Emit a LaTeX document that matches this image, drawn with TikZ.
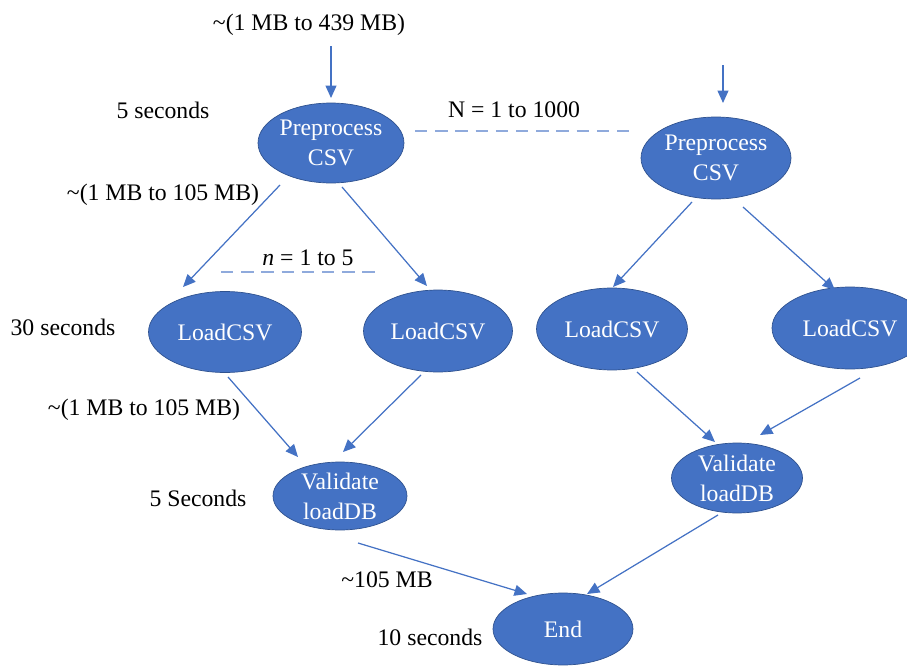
\documentclass[tikz,border=0pt]{standalone}
\usepackage{fontspec}
\setmainfont{Liberation Serif}
\usepackage{tikz}
\usetikzlibrary{arrows.meta, shapes.geometric}

\definecolor{officeblue}{HTML}{4472C4}
\definecolor{darkblue}{HTML}{2F528F}
\definecolor{lightblue}{HTML}{8FAADC}

\begin{document}
\begin{tikzpicture}[
  x=0.02cm, y=-0.02cm,
  font=\fontsize{13.5}{17}\selectfont,
  task/.style={draw=darkblue, ellipse, fill=officeblue, text=white, inner sep=0pt, align=center},
  arrow/.style={-{Triangle[length=0.25cm, width=0.22cm]}, officeblue, line width=0.7pt},
  batch/.style={dashed, lightblue, line width=1pt, dash pattern=on 7pt off 4.5pt},
  note/.style={text=black, inner sep=0pt}
]
\useasboundingbox (0,0) rectangle (907,666);
\clip (0,0) rectangle (907,666);

% left branch
\coordinate (in_a) at (331,46);
\node[task, minimum width=2.92cm, minimum height=1.6cm] (pre_a) at (331,143) {Preprocess\\CSV};
\draw[arrow] (in_a) -- ([shift={(0,-45)}]pre_a.center);

\node[task, minimum width=3.06cm, minimum height=1.62cm] (load_a) at (225,332) {LoadCSV};
\node[task, minimum width=2.98cm, minimum height=1.64cm] (load_b) at (438,331) {LoadCSV};
\draw[arrow] ([shift={(-51,42)}]pre_a.center) -- ([shift={(-42,-45)}]load_a.center);
\draw[arrow] ([shift={(11,44)}]pre_a.center) -- ([shift={(-11,-45)}]load_b.center);

\node[task, minimum width=2.68cm, minimum height=1.36cm] (val_a) at (340,496) {Validate\\loadDB};
\draw[arrow] ([shift={(3,45)}]load_a.center) -- ([shift={(-42,-39)}]val_a.center);
\draw[arrow] ([shift={(-17,44)}]load_b.center) -- ([shift={(3,-44)}]val_a.center);

% right branch
\coordinate (in_b) at (723,65);
\node[task, minimum width=3cm, minimum height=1.64cm] (pre_b) at (716,158) {Preprocess\\CSV};
\draw[arrow] (in_b) -- ([shift={(7,-55)}]pre_b.center);

\node[task, minimum width=3.02cm, minimum height=1.64cm] (load_c) at (612,329) {LoadCSV};
\node[task, minimum width=3.12cm, minimum height=1.64cm] (load_d) at (850,328) {LoadCSV};
\draw[arrow] ([shift={(-24,44)}]pre_b.center) -- ([shift={(1,-42)}]load_c.center);
\draw[arrow] ([shift={(27,49)}]pre_b.center) -- ([shift={(-15,-38)}]load_d.center);

\node[task, minimum width=2.62cm, minimum height=1.4cm] (val_b) at (737,478) {Validate\\loadDB};
\draw[arrow] ([shift={(25,43)}]load_c.center) -- ([shift={(-22,-36)}]val_b.center);
\draw[arrow] ([shift={(10,50)}]load_d.center) -- ([shift={(23,-43)}]val_b.center);

% end
\node[task, minimum width=2.8cm, minimum height=1.44cm] (finish) at (563,629) {End};
\draw[arrow] ([shift={(18,47)}]val_a.center) -- ([shift={(-36,-35)}]finish.center);
\draw[arrow] ([shift={(-19,37)}]val_b.center) -- ([shift={(24,-35)}]finish.center);

% batch markers
\draw[batch] (415,131) -- (636,131);
\draw[batch] (221,272) -- (381,272);

% labels
\node[note] (size_in) at (309,25) {\textasciitilde(1 MB to 439 MB)};
\node[note] (t_pre) at (163,110) {5 seconds};
\node[note] (size_pre) at (163,195) {\textasciitilde(1 MB to 105 MB)};
\node[note] (big_n) at (514,110) {N = 1 to 1000};
\node[note] (small_n) at (308,258) {\textit{n} = 1 to 5};
\node[note] (t_load) at (63,327) {30 seconds};
\node[note] (size_load) at (144,410) {\textasciitilde(1 MB to 105 MB)};
\node[note] (t_val) at (198,498) {5 Seconds};
\node[note] (size_val) at (387,580) {\textasciitilde105 MB};
\node[note] (t_end) at (430,637) {10 seconds};

\end{tikzpicture}
\end{document}
